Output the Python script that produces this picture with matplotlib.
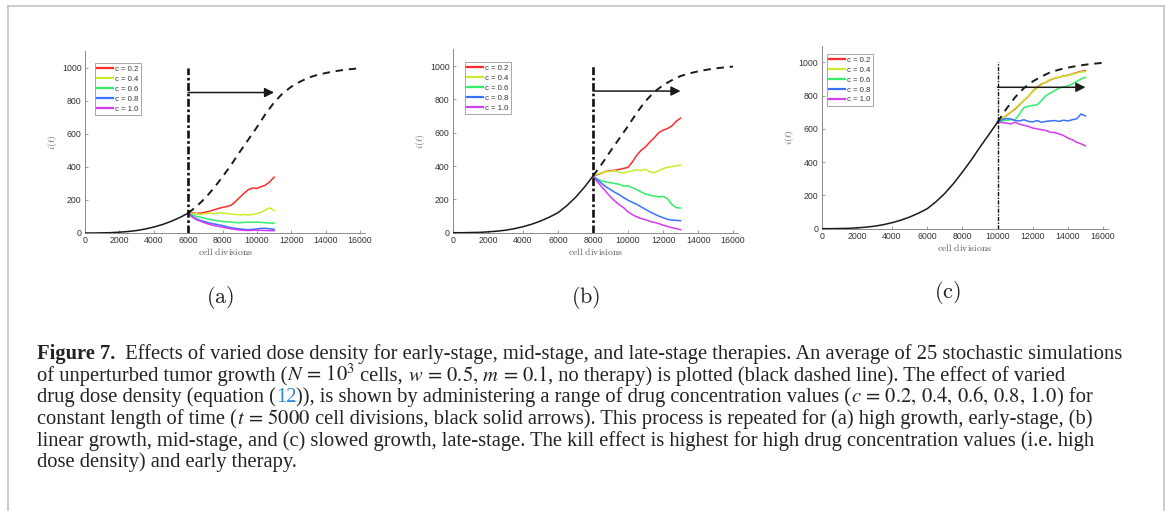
import numpy as np
import matplotlib
matplotlib.use('Agg')
import matplotlib.pyplot as plt
from matplotlib.lines import Line2D

W, H = 1170, 511

# unperturbed growth, averaged over 25 runs (sampled every 500 divisions)
base_x = list(range(0, 16001, 500))
base_y = [0, 0, 1, 2, 5, 9, 15, 24, 36, 51, 70, 93, 120, 162, 212, 272, 340,
          412, 490, 565, 640, 720, 790, 845, 885, 915, 940, 956, 968, 978,
          986, 992, 997]

# therapy runs, sampled every 250 divisions after therapy start
therapy_offsets = list(range(0, 5001, 250))
conc_labels = ['c = 0.2', 'c = 0.4', 'c = 0.6', 'c = 0.8', 'c = 1.0']
conc_colors = ['#ff2a2a', '#c8ee2a', '#33ee66', '#3a72ff', '#d43cf0']

# (a) therapy starts at 6000
start_a = 6000
red_a = [120, 122, 118, 121, 126, 132, 140, 148, 155, 160, 168, 190, 215, 240,
         262, 272, 270, 280, 290, 310, 338]
yellow_a = [120, 118, 116, 112, 118, 120, 116, 122, 120, 118, 114, 112, 110,
            112, 108, 112, 118, 125, 140, 152, 135]
green_a = [120, 108, 100, 95, 88, 82, 78, 74, 70, 68, 66, 63, 62, 64, 66, 65,
           66, 64, 62, 60, 60]
blue_a = [120, 100, 85, 75, 68, 60, 55, 50, 45, 38, 32, 28, 25, 22, 20, 22, 25,
          28, 28, 25, 22]
magenta_a = [120, 95, 80, 70, 60, 52, 45, 40, 35, 30, 25, 22, 18, 16, 15, 16,
             17, 16, 15, 14, 14]

# (b) therapy starts at 8000
start_b = 8000
red_b = [340, 348, 358, 368, 372, 375, 380, 386, 392, 425, 465, 495, 515, 545,
         570, 600, 615, 625, 640, 668, 688]
yellow_b = [340, 352, 360, 366, 368, 372, 362, 358, 366, 372, 378, 372, 380,
            366, 360, 372, 385, 392, 396, 402, 405]
green_b = [340, 322, 310, 305, 300, 295, 290, 280, 282, 270, 258, 245, 232, 225,
           220, 215, 218, 205, 170, 150, 148]
blue_b = [340, 318, 295, 275, 258, 242, 228, 210, 195, 182, 170, 155, 140, 125,
          112, 100, 90, 80, 76, 74, 72]
magenta_b = [340, 305, 275, 245, 215, 190, 168, 150, 125, 108, 95, 85, 78, 68,
             62, 55, 45, 38, 30, 25, 18]

# (c) therapy starts at 10000
start_c = 10000
red_c = [640, 660, 680, 700, 720, 745, 770, 795, 825, 850, 870, 880, 895, 905,
         910, 918, 922, 930, 938, 945, 950]
yellow_c = [640, 662, 683, 702, 725, 748, 772, 798, 822, 845, 866, 882, 898,
            906, 912, 916, 920, 928, 935, 942, 945]
green_c = [640, 648, 652, 655, 655, 690, 728, 735, 742, 745, 770, 800, 815, 830,
           845, 852, 858, 870, 885, 900, 910]
blue_c = [640, 655, 662, 660, 650, 648, 655, 645, 642, 650, 640, 645, 648, 650,
          645, 652, 648, 655, 660, 690, 678]
magenta_c = [640, 638, 635, 630, 640, 628, 622, 615, 605, 600, 595, 590, 580,
             578, 570, 560, 545, 535, 520, 510, 498]

arrow_level = 850
therapy_length = 5000

x_ticks = list(range(0, 16001, 2000))
y_ticks = list(range(0, 1001, 200))

fig = plt.figure(figsize=(W / 100, H / 100), dpi=100)
fig.patch.set_facecolor('white')


def px_box(left, bottom_px, width, height):
    return [left / W, 1 - bottom_px / H, width / W, height / H]


def draw_panel(ax, start, runs, leg_anchor, vline_lw):
    i0 = base_x.index(start)
    ax.plot(base_x[:i0 + 1], base_y[:i0 + 1], color='#1a1a1a', lw=1.1, zorder=3)
    ax.plot(base_x[i0:], base_y[i0:], color='#1a1a1a', lw=1.4,
            linestyle=(0, (3.8, 3)), zorder=3)
    xs = [start + d for d in therapy_offsets]
    for vals, col, lab in zip(runs, conc_colors, conc_labels):
        ax.plot(xs, vals, color=col, lw=1.1, label=lab, zorder=2)
    ax.plot([start, start], [0, 1000], color='#111111', lw=vline_lw,
            linestyle=(0, (3, 1, 1, 1)), zorder=4)
    ax.annotate('', xy=(start + therapy_length, arrow_level),
                xytext=(start, arrow_level),
                arrowprops=dict(arrowstyle='-|>', color='#1a1a1a', lw=1.1,
                                mutation_scale=14, shrinkA=0, shrinkB=0),
                zorder=5)
    ax.set_xlim(0, 16300)
    ax.set_ylim(0, 1100)
    ax.set_xticks(x_ticks)
    ax.set_yticks(y_ticks)
    for s in ['top', 'right']:
        ax.spines[s].set_visible(False)
    for s in ['left', 'bottom']:
        ax.spines[s].set_color('#777777')
        ax.spines[s].set_linewidth(0.6)
    ax.tick_params(direction='in', length=2, width=0.5, colors='#777777',
                   labelcolor='#333333', labelsize=6.3, pad=2.5)
    for lbl in ax.get_xticklabels() + ax.get_yticklabels():
        lbl.set_family('Liberation Sans')
    ax.set_xlabel(r'$\mathrm{cell\ divisions}$', fontsize=7, color='#555555',
                  labelpad=0.5, math_fontfamily='cm')
    ax.set_ylabel(r'$i(t)$', fontsize=7, color='#666666', labelpad=2,
                  math_fontfamily='cm')
    leg = ax.legend(loc='upper left', bbox_to_anchor=leg_anchor,
                    prop={'family': 'Liberation Sans', 'size': 5.6},
                    frameon=True, fancybox=False, edgecolor='#999999',
                    framealpha=1, handlelength=2.0, handletextpad=0.3,
                    labelspacing=0.32, borderpad=0.3, borderaxespad=0)
    leg.get_frame().set_linewidth(0.6)
    for ln in leg.get_lines():
        ln.set_linewidth(1.6)
    for t in leg.get_texts():
        t.set_color('#333333')


ax_a = fig.add_axes(px_box(85, 233, 280.2, 181.8))
draw_panel(ax_a, start_a, [red_a, yellow_a, green_a, blue_a, magenta_a],
           (0.036, 0.934), 1.9)

ax_b = fig.add_axes(px_box(453, 232.7, 285.3, 183.3))
draw_panel(ax_b, start_b, [red_b, yellow_b, green_b, blue_b, magenta_b],
           (0.042, 0.93), 1.9)

ax_c = fig.add_axes(px_box(821.7, 228.7, 286.6, 183.0))
draw_panel(ax_c, start_c, [red_c, yellow_c, green_c, blue_c, magenta_c],
           (0.019, 0.955), 1.0)

# panel letters
for lab, xp, yp in [('a', 220, 297), ('b', 586, 297), ('c', 947, 292)]:
    fig.text(xp / W, 1 - yp / H, r'$(\mathrm{%s})$' % lab, ha='center',
             va='center', fontsize=16, color='#222222', math_fontfamily='cm')

# caption, written piece by piece so that maths and the link keep their own style
FS = 14.8
renderer = fig.canvas.get_renderer()
link = {'color': '#2a8ad4'}
bold = {'weight': 'bold'}


def caption_line(y_px, pieces):
    x = 37
    for piece in pieces:
        txt, kw = (piece, {}) if isinstance(piece, str) else piece
        style = dict(fontsize=FS, family='Liberation Serif',
                     math_fontfamily='stix', color='#222222')
        style.update(kw)
        t = fig.text(x / W, 1 - y_px / H, txt, ha='left', va='baseline', **style)
        x += t.get_window_extent(renderer=renderer).width


caption_line(359, [('Figure 7.', bold),
                   '  Effects of varied dose density for early-stage, mid-stage, '
                   'and late-stage therapies. An average of 25 stochastic simulations'])
caption_line(381, ['of unperturbed tumor growth (', r'$N\, =\, 10^3$',
                   ' cells,', r' $w\, =\, 0.5,\, m\, =\, 0.1$',
                   ', no therapy) is plotted (black dashed line). The effect of varied'])
caption_line(402, ['drug dose density (equation (', ('12', link),
                   ')), is shown by administering a range of drug concentration values (',
                   r'$c\, =\, 0.2,\, 0.4,\, 0.6,\, 0.8,\, 1.0$', ') for'])
caption_line(424, ['constant length of time (', r'$t\, =\, 5000$',
                   ' cell divisions, black solid arrows). This process is repeated '
                   'for (a) high growth, early-stage, (b)'])
caption_line(446, ['linear growth, mid-stage, and (c) slowed growth, late-stage. The kill '
                   'effect is highest for high drug concentration values (i.e. high'])
caption_line(467, ['dose density) and early therapy.'])

# grey frame around the figure block (open at the bottom)
fc = '#c4c4c4'
fig.add_artist(Line2D([7.5 / W, 7.5 / W], [0, 1 - 6.5 / H], color=fc, lw=1.2,
                      transform=fig.transFigure))
fig.add_artist(Line2D([7.5 / W, 1163.5 / W], [1 - 6.5 / H, 1 - 6.5 / H], color=fc,
                      lw=1.2, transform=fig.transFigure))
fig.add_artist(Line2D([1163.5 / W, 1163.5 / W], [0, 1 - 6.5 / H], color=fc, lw=1.2,
                      transform=fig.transFigure))

fig.savefig('out.png', dpi=100)
